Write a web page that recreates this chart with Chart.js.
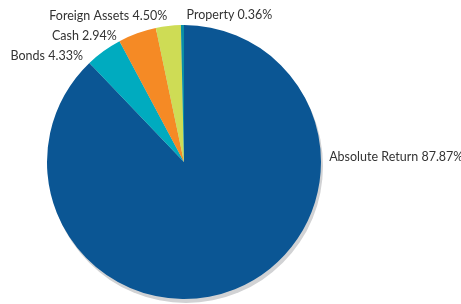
<!DOCTYPE html>
<html>
<head>
<meta charset="utf-8">
<script src="https://cdn.jsdelivr.net/npm/chart.js@4/dist/chart.umd.min.js"></script>
<style>
  html, body { margin: 0; padding: 0; background: #fff; }
  #wrap { width: 461px; height: 304px; position: relative; }
</style>
</head>
<body>
<div id="wrap"><canvas id="chart"></canvas></div>
<script>
// clockwise from 12 o'clock
const categories = ['Absolute Return', 'Bonds', 'Foreign Assets', 'Cash', 'Property'];
const values = [87.87, 4.33, 4.50, 2.94, 0.36];
const colors = ['#0b5694', '#00abbf', '#f58a25', '#cedc55', '#0a8fa6'];

// label placement: angle from top (deg, clockwise), distance as share of radius, alignment
const labelSpots = [
  { angle: 88, dist: 1.06, align: 'left' },
  { angle: -43.6, dist: 1.07, align: 'right' },
  { angle: -6.6, dist: 1.07, align: 'right' },
  { angle: -28, dist: 1.045, align: 'right' },
  { angle: 1, dist: 1.07, align: 'left' }
];

const shadowPlugin = {
  id: 'pieShadow',
  beforeDatasetsDraw(chart) {
    const arc = chart.getDatasetMeta(0).data[0];
    if (!arc) return;
    const ctx = chart.ctx;
    ctx.save();
    ctx.fillStyle = '#d1d2d4';
    ctx.beginPath();
    ctx.arc(arc.x + 2, arc.y + 4, arc.outerRadius, 0, Math.PI * 2);
    ctx.fill();
    ctx.restore();
  }
};

const labelPlugin = {
  id: 'outerLabels',
  afterDatasetsDraw(chart) {
    const meta = chart.getDatasetMeta(0);
    const arc = meta.data[0];
    const ctx = chart.ctx;
    ctx.save();
    ctx.font = '12.5px Lato, sans-serif';
    ctx.fillStyle = '#333';
    ctx.textBaseline = 'middle';
    categories.forEach((name, i) => {
      const s = labelSpots[i];
      const a = s.angle * Math.PI / 180;
      const r = arc.outerRadius * s.dist;
      const x = arc.x + r * Math.sin(a);
      const y = arc.y - r * Math.cos(a);
      ctx.textAlign = s.align;
      ctx.fillText(name + ' ' + values[i].toFixed(2) + '%', x, y);
    });
    ctx.restore();
  }
};

new Chart(document.getElementById('chart'), {
  type: 'pie',
  data: {
    labels: categories,
    datasets: [{
      data: values,
      backgroundColor: colors,
      borderWidth: 0
    }]
  },
  options: {
    responsive: true,
    maintainAspectRatio: false,
    animation: false,
    layout: { padding: { top: 25, bottom: 5, left: 47, right: 140 } },
    plugins: {
      legend: { display: false },
      tooltip: { enabled: false }
    }
  },
  plugins: [shadowPlugin, labelPlugin]
});
</script>
</body>
</html>
